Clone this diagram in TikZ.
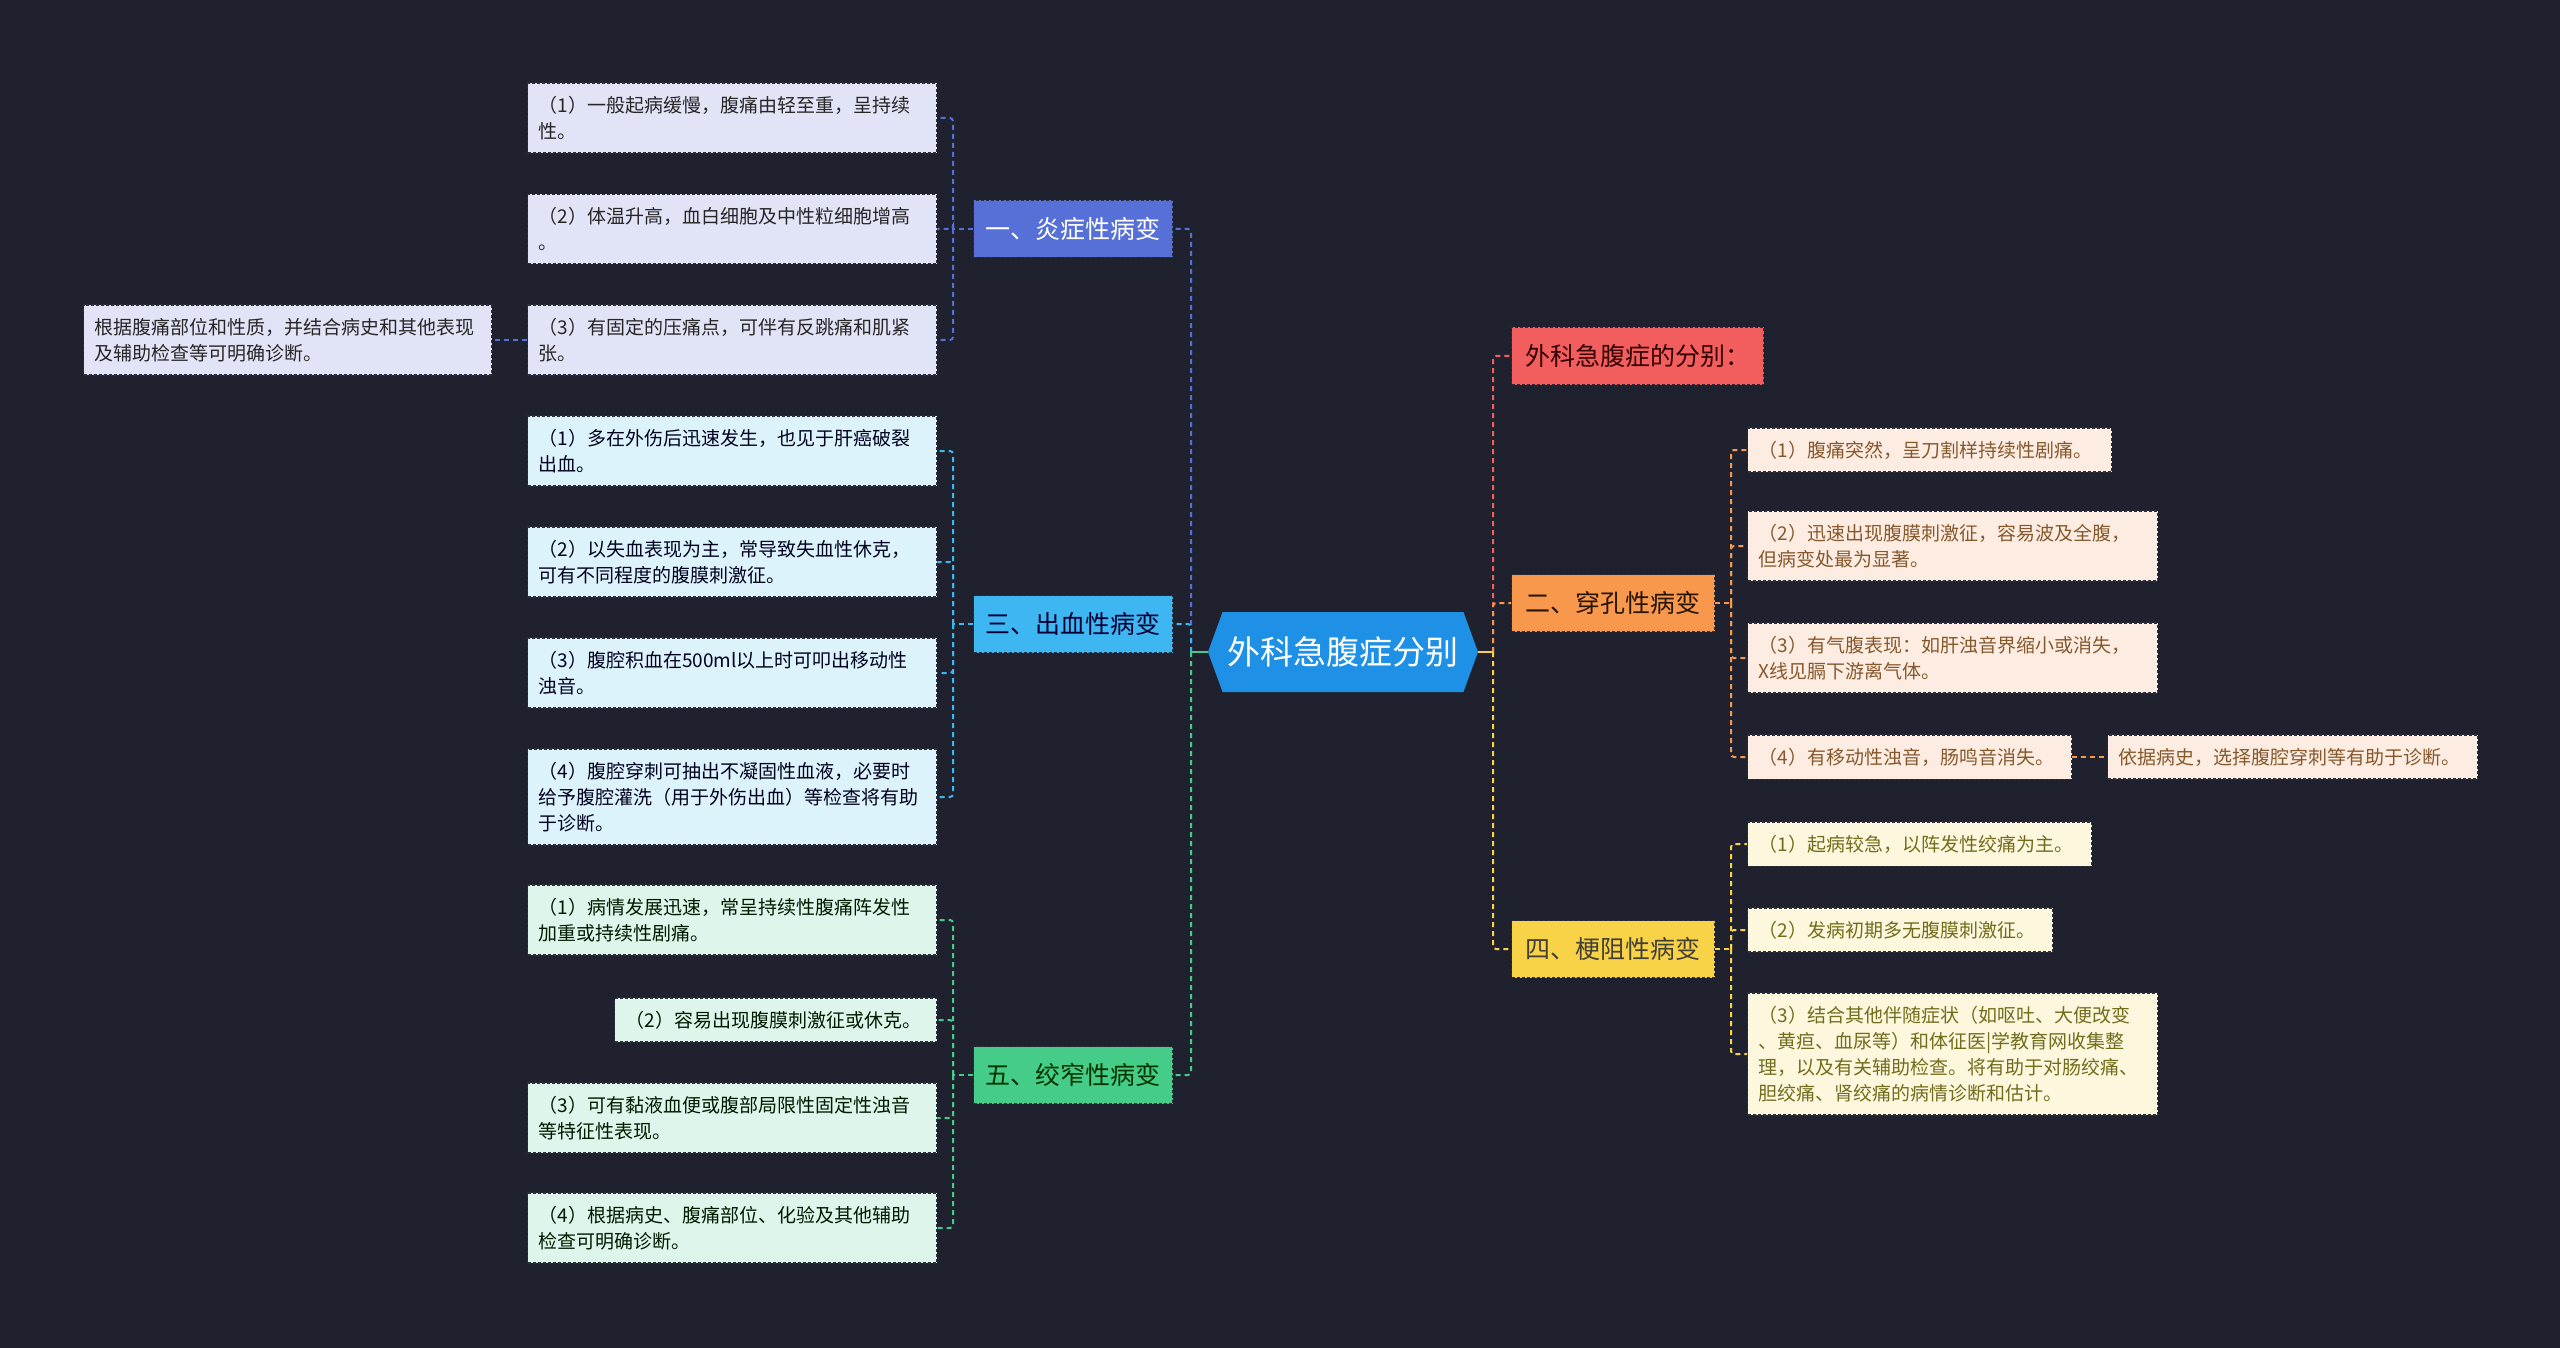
\documentclass[tikz,border=0pt]{standalone}
\usepackage{fontspec}
\setmainfont{Noto Sans CJK SC}
\usetikzlibrary{shapes.symbols}

\definecolor{bgnavy}{HTML}{1F222E}
\definecolor{rootblue}{HTML}{1E90E6}
\definecolor{yanblue}{HTML}{5670D8}
\definecolor{yanpale}{HTML}{E1E4F7}
\definecolor{xueblue}{HTML}{3DB6F2}
\definecolor{xuepale}{HTML}{DDF3FC}
\definecolor{jiaogreen}{HTML}{44CC88}
\definecolor{jiaopale}{HTML}{DDF5EA}
\definecolor{fenred}{HTML}{F25D5D}
\definecolor{chuanorange}{HTML}{F8984C}
\definecolor{chuanpale}{HTML}{FDECE1}
\definecolor{gengyellow}{HTML}{F8D347}
\definecolor{gengpale}{HTML}{FDF7DD}
\definecolor{boxedge}{HTML}{2C2E3A}

\tikzset{
  box/.style={draw=boxedge, line width=1.3pt, dash pattern=on 3pt off 2pt,
    inner xsep=11pt, inner ysep=13pt, anchor=west, align=left},
  leaf/.style={box, font=\fontsize{19}{26}\selectfont},
  yanleaf/.style={leaf, fill=yanpale, text=black!85},
  xueleaf/.style={leaf, fill=xuepale, text=black!80!blue!60!black},
  jiaoleaf/.style={leaf, fill=jiaopale, text=black!80!green!50!black},
  chuanleaf/.style={leaf, fill=chuanpale, text=brown!70!black},
  gengleaf/.style={leaf, fill=gengpale, text=olive!75!black},
  branch/.style={box, font=\fontsize{25}{30}\selectfont, minimum height=57pt,
    align=center, inner ysep=0pt},
  link/.style={line width=2pt, dash pattern=on 5pt off 4pt, rounded corners=3pt},
  trunk/.style={line width=2.4pt},
}

\begin{document}
\begin{tikzpicture}[x=1pt,y=-1pt]

\fill[bgnavy] (0,0) rectangle (2560,1348);
\useasboundingbox (0,0) rectangle (2560,1348);

  % Define the junction points
  \coordinate (lj) at (1191,652);
  \coordinate (rj) at (1493,652);
  \coordinate (k1) at (953,229);
  \coordinate (k3) at (953,624);
  \coordinate (k5) at (953,1075);
  \coordinate (k2) at (1731,603);
  \coordinate (k4) at (1731,949);

  % Draw the root
\node[signal, signal to=west and east, signal pointer angle=140, fill=rootblue,
  text=white, font=\fontsize{33}{40}\selectfont, minimum width=270pt,
  minimum height=80pt, inner sep=0pt] (root) at (1343,652) {外科急腹症分别};

  % Draw the branches
\node[branch, fill=yanblue, text=white, text width=177pt] (b1) at (973,229) {一、炎症性病变};
\node[branch, fill=xueblue, text=black!80!blue, text width=177pt] (b3) at (973,624) {三、出血性病变};
\node[branch, fill=jiaogreen, text=black!80!green, text width=177pt] (b5) at (973,1075) {五、绞窄性病变};
\node[branch, fill=fenred, text=black!80!red, text width=230pt] (r0) at (1511,356) {外科急腹症的分别：};
\node[branch, fill=chuanorange, text=black!85!orange, text width=181pt] (b2) at (1511,603) {二、穿孔性病变};
\node[branch, fill=gengyellow, text=black!85!yellow, text width=181pt] (b4) at (1511,949) {四、梗阻性病变};

  % Draw the left leaves
\node[yanleaf, text width=387pt] (i11) at (527,118) {（1）一般起病缓慢，腹痛由轻至重，呈持续\\性。};
\node[yanleaf, text width=387pt] (i12) at (527,229) {（2）体温升高，血白细胞及中性粒细胞增高\\。};
\node[yanleaf, text width=387pt] (i13) at (527,340) {（3）有固定的压痛点，可伴有反跳痛和肌紧\\张。};
\node[yanleaf, text width=386pt] (f1) at (83,340) {根据腹痛部位和性质，并结合病史和其他表现\\及辅助检查等可明确诊断。};

\node[xueleaf, text width=387pt] (i31) at (527,451) {（1）多在外伤后迅速发生，也见于肝癌破裂\\出血。};
\node[xueleaf, text width=387pt] (i32) at (527,562) {（2）以失血表现为主，常导致失血性休克，\\可有不同程度的腹膜刺激征。};
\node[xueleaf, text width=387pt] (i33) at (527,673) {（3）腹腔积血在500ml以上时可叩出移动性\\浊音。};
\node[xueleaf, text width=387pt] (i34) at (527,797) {（4）腹腔穿刺可抽出不凝固性血液，必要时\\给予腹腔灌洗（用于外伤出血）等检查将有助\\于诊断。};

\node[jiaoleaf, text width=387pt] (i51) at (527,920) {（1）病情发展迅速，常呈持续性腹痛阵发性\\加重或持续性剧痛。};
\node[jiaoleaf, text width=300pt] (i52) at (614,1020) {（2）容易出现腹膜刺激征或休克。};
\node[jiaoleaf, text width=387pt] (i53) at (527,1118) {（3）可有黏液血便或腹部局限性固定性浊音\\等特征性表现。};
\node[jiaoleaf, text width=387pt] (i54) at (527,1228) {（4）根据病史、腹痛部位、化验及其他辅助\\检查可明确诊断。};

  % Draw the right leaves
\node[chuanleaf, text width=342pt] (r21) at (1747,450) {（1）腹痛突然，呈刀割样持续性剧痛。};
\node[chuanleaf, text width=388pt] (r22) at (1747,546) {（2）迅速出现腹膜刺激征，容易波及全腹，\\但病变处最为显著。};
\node[chuanleaf, text width=388pt] (r23) at (1747,658) {（3）有气腹表现：如肝浊音界缩小或消失，\\X线见膈下游离气体。};
\node[chuanleaf, text width=302pt] (r24) at (1747,757) {（4）有移动性浊音，肠鸣音消失。};
\node[chuanleaf, text width=348pt] (f2) at (2107,757) {依据病史，选择腹腔穿刺等有助于诊断。};

\node[gengleaf, text width=322pt] (r41) at (1747,844) {（1）起病较急，以阵发性绞痛为主。};
\node[gengleaf, text width=283pt] (r42) at (1747,930) {（2）发病初期多无腹膜刺激征。};
\node[gengleaf, text width=388pt] (r43) at (1747,1054) {（3）结合其他伴随症状（如呕吐、大便改变\\、黄疸、血尿等）和体征医|学教育网收集整\\理，以及有关辅助检查。将有助于对肠绞痛、\\胆绞痛、肾绞痛的病情诊断和估计。};

  % Draw the trunk connectors
  \draw[link, yanblue] (lj) |- (b1.east);
  \draw[link, xueblue] (lj) |- (b3.east);
  \draw[link, jiaogreen] (lj) |- (b5.east);
  \draw[trunk, jiaogreen] (root.west) -- (lj);
  \draw[link, fenred] (rj) |- (r0.west);
  \draw[link, chuanorange] (rj) |- (b2.west);
  \draw[link, gengyellow] (rj) |- (b4.west);
  \draw[trunk, gengyellow] (root.east) -- (rj);

  % Draw the leaf connectors
  \draw[link, yanblue] (b1.west) -- (k1);
  \foreach \n in {i11, i12, i13} {
    \draw[link, yanblue] (k1) |- (\n.east);
  }
  \draw[link, yanblue] (i13.west) -- (f1.east);
  \draw[link, xueblue] (b3.west) -- (k3);
  \foreach \n in {i31, i32, i33, i34} {
    \draw[link, xueblue] (k3) |- (\n.east);
  }
  \draw[link, jiaogreen] (b5.west) -- (k5);
  \foreach \n in {i51, i52, i53, i54} {
    \draw[link, jiaogreen] (k5) |- (\n.east);
  }
  \draw[link, chuanorange] (b2.east) -- (k2);
  \foreach \n in {r21, r22, r23, r24} {
    \draw[link, chuanorange] (k2) |- (\n.west);
  }
  \draw[link, chuanorange] (r24.east) -- (f2.west);
  \draw[link, gengyellow] (b4.east) -- (k4);
  \foreach \n in {r41, r42, r43} {
    \draw[link, gengyellow] (k4) |- (\n.west);
  }
\end{tikzpicture}
\end{document}
